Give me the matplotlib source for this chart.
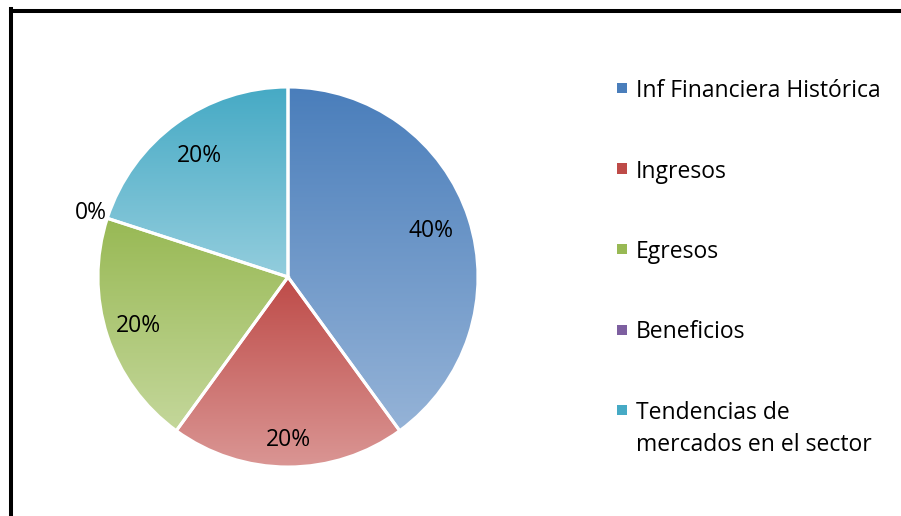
import numpy as np
import matplotlib
matplotlib.use("Agg")
import matplotlib.pyplot as plt
from matplotlib.colors import LinearSegmentedColormap
from matplotlib.lines import Line2D
from matplotlib.patches import Rectangle

plt.rcParams['font.family'] = ['Open Sans', 'DejaVu Sans']

# data
categories = ['Inf Financiera Histórica', 'Ingresos', 'Egresos', 'Beneficios',
              'Tendencias de\nmercados en el sector']
counts = [2, 1, 1, 0, 1]
top_colors = ['#4A7EBB', '#BE4B48', '#98B954', '#7D5FA0', '#46AAC5']
bottom_colors = ['#95B3D7', '#DA9694', '#C4D79B', '#B3A2C7', '#93CDDD']
label_dist = [0.79, 0.86, 0.83, 1.09, 0.79]

fig = plt.figure(figsize=(9.01, 5.16), dpi=100)
ax = fig.add_axes([98 / 901, 49 / 516, 380 / 901, 380 / 516])

wedges, _ = ax.pie(counts, startangle=90, counterclock=False,
                   colors=bottom_colors,
                   wedgeprops=dict(edgecolor='white', linewidth=2.2))

total = sum(counts)
grad = np.linspace(0, 1, 256).reshape(-1, 1)
for w, c0, c1, v, d in zip(wedges, top_colors, bottom_colors, counts, label_dist):
    if v > 0:
        bb = w.get_path().get_extents()
        cmap = LinearSegmentedColormap.from_list('g', [c0, c1])
        im = ax.imshow(grad, cmap=cmap, aspect='auto', origin='upper',
                       extent=[bb.x0, bb.x1, bb.y0, bb.y1], zorder=w.get_zorder())
        im.set_clip_path(w)
        w.set_facecolor('none')
        w.set_zorder(w.get_zorder() + 0.5)
    ang = np.deg2rad((w.theta1 + w.theta2) / 2)
    ax.text(d * np.cos(ang), d * np.sin(ang), f'{100 * v / total:.0f}%',
            ha='center', va='center', fontsize=16.5, color='black')

ax.set_xlim(-1, 1)
ax.set_ylim(-1, 1)
ax.set_aspect('auto')
ax.axis('off')

# legend drawn by hand so the marker sits on the first line of each label
for i, (lab, c0, c1) in enumerate(zip(categories, top_colors, bottom_colors)):
    y = 1 - (88 + i * 80.5) / 516
    fig.patches.append(Rectangle((617 / 901, y - 5 / 516), 10 / 901, 10 / 516,
                                 transform=fig.transFigure, facecolor=c0,
                                 edgecolor='none'))
    fig.text(636 / 901, y, lab.split('\n')[0], ha='left', va='center_baseline',
             fontsize=16.5)
    if '\n' in lab:
        fig.text(636 / 901, y - 32 / 516, lab.split('\n')[1], ha='left',
                 va='center_baseline', fontsize=16.5)

# frame (top and left edges visible)
fig.add_artist(Line2D([11 / 901, 1], [1 - 11 / 516, 1 - 11 / 516],
                      transform=fig.transFigure, color='black', lw=2.9))
fig.add_artist(Line2D([11 / 901, 11 / 901], [0, 1 - 9 / 516],
                      transform=fig.transFigure, color='black', lw=2.9))

fig.savefig('out.png', dpi=100)
